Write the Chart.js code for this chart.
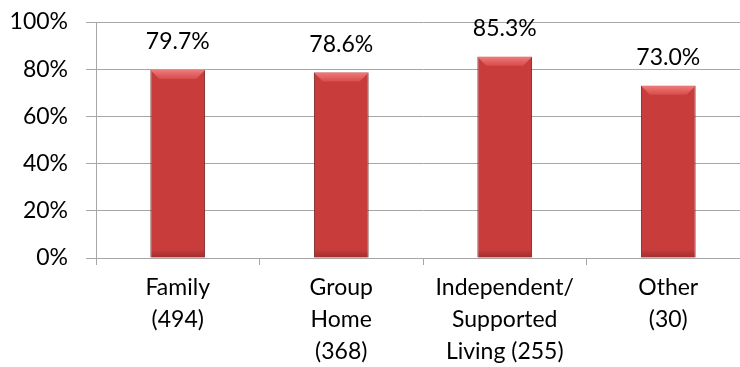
<!DOCTYPE html>
<html>
<head>
<meta charset="utf-8">
<script src="https://cdn.jsdelivr.net/npm/chart.js@4/dist/chart.umd.min.js"></script>
<style>
  html, body { margin: 0; padding: 0; background: #fff; overflow: hidden; }
  #wrap { width: 740px; height: 367px; overflow: hidden; position: relative; }
</style>
</head>
<body>
<div id="wrap">
  <canvas id="chart" width="760" height="367"></canvas>
</div>
<script>
const categories = [
  ["Family", "(494)"],
  ["Group", "Home", "(368)"],
  ["Independent/", "Supported", "Living (255)"],
  ["Other", "(30)"]
];
const shares = [0.797, 0.786, 0.853, 0.730];
const yTicks = [0, 0.2, 0.4, 0.6, 0.8, 1.0];

const fontFamily = "Lato, 'Open Sans', sans-serif";
const gridGray = "#a6a6a6";

// horizontal gradient per bar to mimic the bevelled Excel look
function barFill(ctx) {
  const el = ctx.element;
  if (!el || el.x === undefined) return "#c83c3c";
  const half = el.width / 2;
  const g = ctx.chart.ctx.createLinearGradient(el.x - half, 0, el.x + half, 0);
  g.addColorStop(0, "#7a1f1f");
  g.addColorStop(0.08, "#c23a3a");
  g.addColorStop(0.5, "#d04242");
  g.addColorStop(0.92, "#bc3535");
  g.addColorStop(1, "#6c1a1a");
  return g;
}

const barDecor = {
  id: "barDecor",
  afterDatasetsDraw(chart) {
    const c = chart.ctx;
    const meta = chart.getDatasetMeta(0);
    meta.data.forEach((bar, i) => {
      const half = bar.width / 2;
      const l = bar.x - half, r = bar.x + half, t = bar.y, b = bar.base;
      const d = 9;
      c.save();
      // top bevel
      c.beginPath();
      c.moveTo(l, t); c.lineTo(r, t); c.lineTo(r - d, t + d); c.lineTo(l + d, t + d); c.closePath();
      const tg = c.createLinearGradient(0, t, 0, t + d);
      tg.addColorStop(0, "#ee7b7b");
      tg.addColorStop(1, "#d84c4c");
      c.fillStyle = tg;
      c.fill();
      // soft bottom shade
      const bg = c.createLinearGradient(0, b - 8, 0, b);
      bg.addColorStop(0, "rgba(90,20,20,0)");
      bg.addColorStop(1, "rgba(90,20,20,0.35)");
      c.fillStyle = bg;
      c.fillRect(l + 1, b - 8, r - l - 2, 8);
      // value label
      c.fillStyle = "#000";
      c.font = "23px " + fontFamily;
      c.textAlign = "center";
      c.textBaseline = "middle";
      c.fillText((shares[i] * 100).toFixed(1) + "%", bar.x, t - 28);
      c.restore();
    });
  }
};

new Chart(document.getElementById("chart"), {
  type: "bar",
  data: {
    labels: categories,
    datasets: [{
      data: shares,
      backgroundColor: barFill,
      borderColor: "#6e1c1c",
      borderWidth: 1,
      categoryPercentage: 1,
      barPercentage: 0.335
    }]
  },
  options: {
    responsive: false,
    animation: false,
    layout: { padding: { top: 22, right: 10, left: 0, bottom: 0 } },
    plugins: { legend: { display: false }, tooltip: { enabled: false } },
    scales: {
      x: {
        grid: { display: true, drawOnChartArea: false, color: gridGray, tickLength: 7, offset: true },
        border: { color: gridGray, width: 1 },
        ticks: { color: "#000", padding: 7, maxRotation: 0, autoSkip: false,
          font: { family: fontFamily, size: 23, lineHeight: 1.39 } },
        afterFit(scale) { scale.height = 109; scale.paddingLeft = 0; scale.paddingRight = 0; }
      },
      y: {
        min: 0, max: 1,
        afterBuildTicks(scale) { scale.ticks = yTicks.map(v => ({ value: v })); },
        grid: { color: gridGray, tickLength: 10 },
        border: { color: gridGray, width: 1 },
        ticks: { color: "#000", padding: 18,
          font: { family: fontFamily, size: 23 },
          callback: v => Math.round(v * 100) + "%" },
        afterFit(scale) { scale.width = 96; scale.paddingTop = 0; scale.paddingBottom = 0; }
      }
    }
  },
  plugins: [barDecor]
});
</script>
</body>
</html>
